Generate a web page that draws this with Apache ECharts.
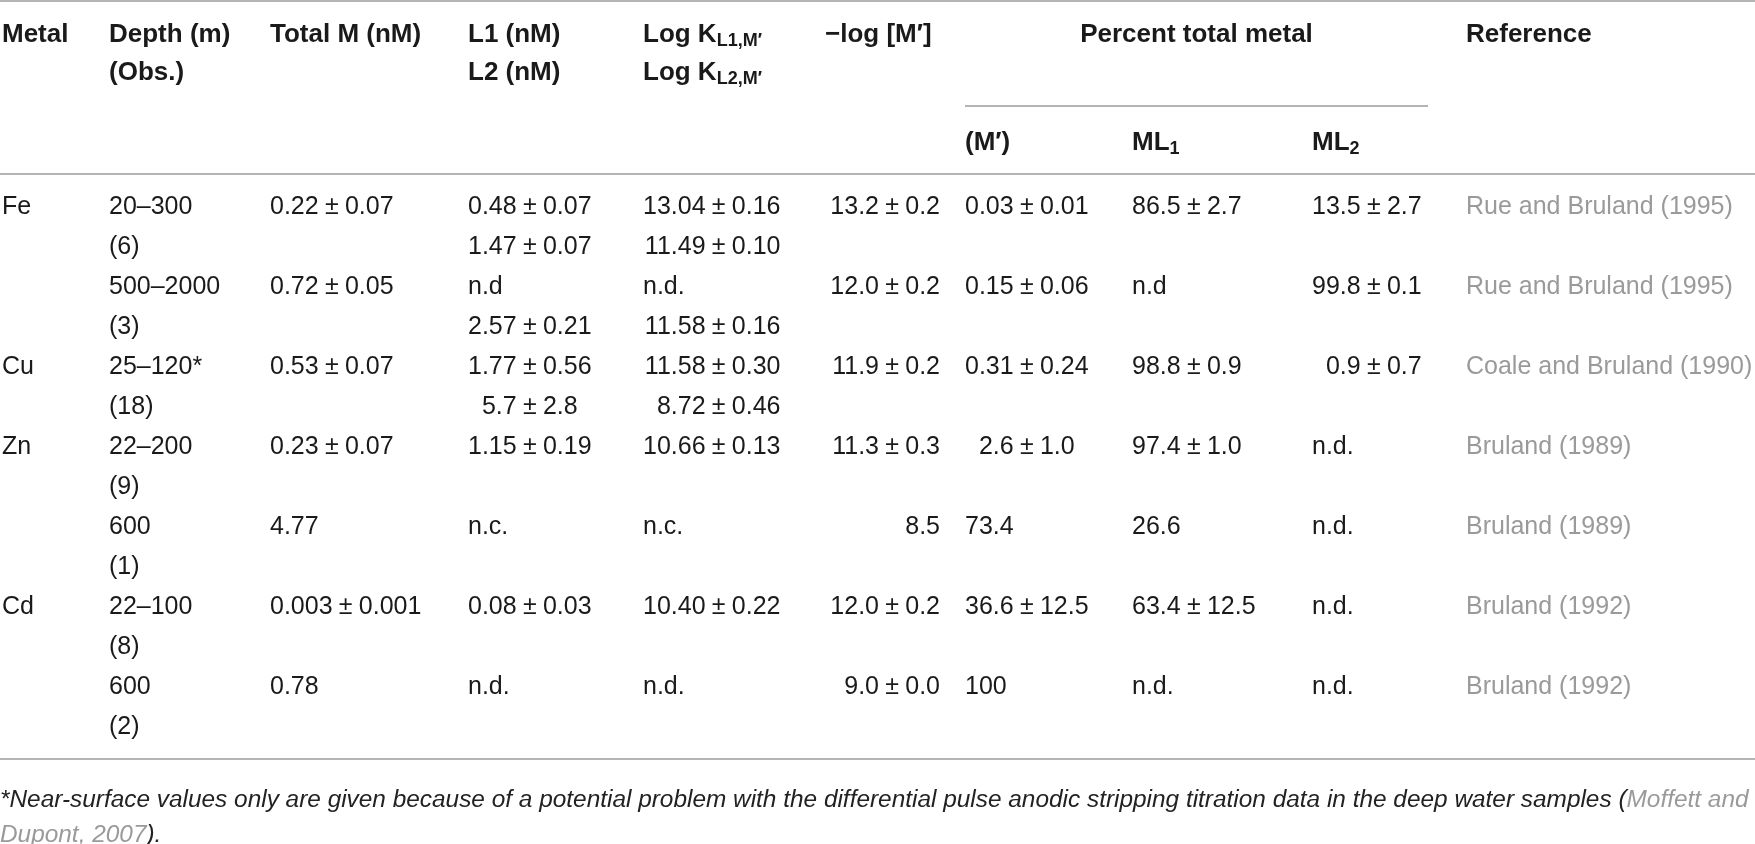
<!doctype html>
<html>
<head>
<meta charset="utf-8">
<style>
  html, body { margin: 0; padding: 0; background: #fff; }
  #main { width: 1755px; height: 844px; }
</style>
</head>
<body>
<div id="main"></div>
<script src="https://cdn.jsdelivr.net/npm/echarts@6/dist/echarts.min.js"></script>
<script>
// table content, one entry per sample (two-line cells are [line1, line2])
var metals = ['Fe', '', 'Cu', 'Zn', '', 'Cd', ''];
var depths = [['20–300', '(6)'], ['500–2000', '(3)'], ['25–120*', '(18)'], ['22–200', '(9)'],
              ['600', '(1)'], ['22–100', '(8)'], ['600', '(2)']];
var totalM = ['0.22±0.07', '0.72±0.05', '0.53±0.07', '0.23±0.07', '4.77', '0.003±0.001', '0.78'];
var ligands = [['0.48±0.07', '1.47±0.07'], ['n.d', '2.57±0.21'], ['1.77±0.56', '5.7±2.8'],
               ['1.15±0.19', ''], ['n.c.', ''], ['0.08±0.03', ''], ['n.d.', '']];
var logK = [['13.04±0.16', '11.49±0.10'], ['n.d.', '11.58±0.16'], ['11.58±0.30', '8.72±0.46'],
            ['10.66±0.13', ''], ['n.c.', ''], ['10.40±0.22', ''], ['n.d.', '']];
var negLogM = ['13.2±0.2', '12.0±0.2', '11.9±0.2', '11.3±0.3', '8.5', '12.0±0.2', '9.0±0.0'];
var pctFree = ['0.03±0.01', '0.15±0.06', '0.31±0.24', '2.6±1.0', '73.4', '36.6±12.5', '100'];
var pctML1 = ['86.5±2.7', 'n.d', '98.8±0.9', '97.4±1.0', '26.6', '63.4±12.5', 'n.d.'];
var pctML2 = ['13.5±2.7', '99.8±0.1', '0.9±0.7', 'n.d.', 'n.d.', 'n.d.', 'n.d.'];
var refs = ['Rue and Bruland (1995)', 'Rue and Bruland (1995)', 'Coale and Bruland (1990)',
            'Bruland (1989)', 'Bruland (1989)', 'Bruland (1992)', 'Bruland (1992)'];

var headers1 = ['Metal', 'Depth (m)', 'Total M (nM)', 'L1 (nM)', '{b|Log K}{s|L1,M′}', '−log [M′]'];
var headers2 = ['', '(Obs.)', '', 'L2 (nM)', '{b|Log K}{s|L2,M′}', ''];
var groupHeader = 'Percent total metal';
var subHeaders = ['{b|(M′)}', '{b|ML}{s|1}', '{b|ML}{s|2}'];
var refHeader = 'Reference';
var footLine1 = ['*Near-surface values only are given because of a potential problem with the differential pulse anodic stripping titration data in the deep water samples (', 'Moffett and'];
var footLine2 = ['Dupont, 2007', ').'];

// layout
var FONT = '"Liberation Sans", Arial, Helvetica, sans-serif';
var BODY_SIZE = 25, HEAD_SIZE = 26;
var INK = '#1a1a1a', GREY = '#9a9a9a', RULE = '#b4b4b4';
var PM_GAP = '\u2005';
var colX = [2, 109, 270, 468, 643, 825, 965, 1132, 1312, 1466];
var negLogRight = 940;
var subRuleEnd = 1428;
var headY1 = 35, headY2 = 73, subHeadY = 143, subRuleY = 106, headRuleY = 174;
var bodyY0 = 207, rowStep = 40, bottomRuleY = 759, footY1 = 800, footY2 = 835;

var ctx = document.createElement('canvas').getContext('2d');
function measure(s, size, extra) {
    ctx.font = (extra || '') + ' ' + size + 'px ' + FONT;
    return ctx.measureText(s).width;
}
function fmt(s) { return s.replace('±', PM_GAP + '±' + PM_GAP); }
function pre(s) { return s.indexOf('±') >= 0 ? s.split('±')[0] : null; }

var els = [];
function txt(x, y, s, opt) {
    opt = opt || {};
    els.push({
        type: 'text', x: x, y: y, silent: true,
        style: {
            text: s, fill: opt.fill || INK, fontSize: opt.size || BODY_SIZE,
            fontFamily: FONT, fontWeight: opt.weight || 'normal', fontStyle: opt.italic ? 'italic' : 'normal',
            align: opt.align || 'left', verticalAlign: 'middle', rich: opt.rich
        }
    });
}
function rule(x1, x2, y) {
    els.push({ type: 'line', silent: true, shape: { x1: x1, y1: y, x2: x2, y2: y },
               style: { stroke: RULE, lineWidth: 2 } });
}

var headRich = {
    b: { fontSize: HEAD_SIZE, fontWeight: 'bold', fontFamily: FONT, fill: INK, lineHeight: 30 },
    s: { fontSize: 18, fontWeight: 'bold', fontFamily: FONT, fill: INK, lineHeight: 18, verticalAlign: 'bottom' }
};

// rules
rule(0, 1755, 1);
rule(colX[6], subRuleEnd, subRuleY);
rule(0, 1755, headRuleY);
rule(0, 1755, bottomRuleY);

// header
function head(x, y, h) {
    if (!h) return;
    if (h.indexOf('{') === 0) txt(x, y, h, { rich: headRich });
    else txt(x, y, h, { size: HEAD_SIZE, weight: 'bold' });
}
headers1.forEach(function (h, i) { head(colX[i], headY1, h); });
headers2.forEach(function (h, i) { head(colX[i], headY2, h); });
txt((colX[6] + subRuleEnd) / 2, headY1, groupHeader, { size: HEAD_SIZE, weight: 'bold', align: 'center' });
head(colX[9], headY1, refHeader);
subHeaders.forEach(function (h, i) { head(colX[6 + i], subHeadY, h); });

// body: columns aligned on the ± sign get a per-column anchor
function pmColumn(values, col, rowOf) {
    var w = 0;
    values.forEach(function (v) { var p = pre(v); if (p !== null) w = Math.max(w, measure(p, BODY_SIZE)); });
    values.forEach(function (v, k) {
        if (!v) return;
        var p = pre(v);
        var x = p === null ? colX[col] : colX[col] + w - measure(p, BODY_SIZE);
        txt(x, rowOf(k), fmt(v));
    });
}
function rowY(i, line) { return bodyY0 + (2 * i + line) * rowStep; }
function flatRow(k) { return bodyY0 + k * rowStep; }
function sampleRow(k) { return rowY(k, 0); }

metals.forEach(function (m, i) { if (m) txt(colX[0], rowY(i, 0), m); });
depths.forEach(function (d, i) { txt(colX[1], rowY(i, 0), d[0]); txt(colX[1], rowY(i, 1), d[1]); });
totalM.forEach(function (v, i) { txt(colX[2], rowY(i, 0), fmt(v)); });

var ligFlat = [], logFlat = [];
ligands.forEach(function (v) { ligFlat.push(v[0], v[1]); });
logK.forEach(function (v) { logFlat.push(v[0], v[1]); });
pmColumn(ligFlat, 3, flatRow);
pmColumn(logFlat, 4, flatRow);

negLogM.forEach(function (v, i) { txt(negLogRight, rowY(i, 0), fmt(v), { align: 'right' }); });
pmColumn(pctFree, 6, sampleRow);
pmColumn(pctML1, 7, sampleRow);
pmColumn(pctML2, 8, sampleRow);
refs.forEach(function (r, i) { txt(colX[9], rowY(i, 0), r, { fill: GREY }); });

// footnote, sized so the first line fills the width
var fw = measure(footLine1.join(''), 20, 'italic');
var footSize = Math.floor(20 * 1752 / fw * 10) / 10;
var footRich = {
    k: { fontSize: footSize, fontStyle: 'italic', fontFamily: FONT, fill: '#222' },
    g: { fontSize: footSize, fontStyle: 'italic', fontFamily: FONT, fill: GREY }
};
txt(0, footY1, '{k|' + footLine1[0] + '}{g|' + footLine1[1] + '}', { rich: footRich });
txt(0, footY2, '{g|' + footLine2[0] + '}{k|' + footLine2[1] + '}', { rich: footRich });

var chart = echarts.init(document.getElementById('main'));
chart.setOption({
    animation: false,
    backgroundColor: '#fff',
    graphic: { elements: els }
});
window.addEventListener('resize', function () { chart.resize(); });
</script>
</body>
</html>
